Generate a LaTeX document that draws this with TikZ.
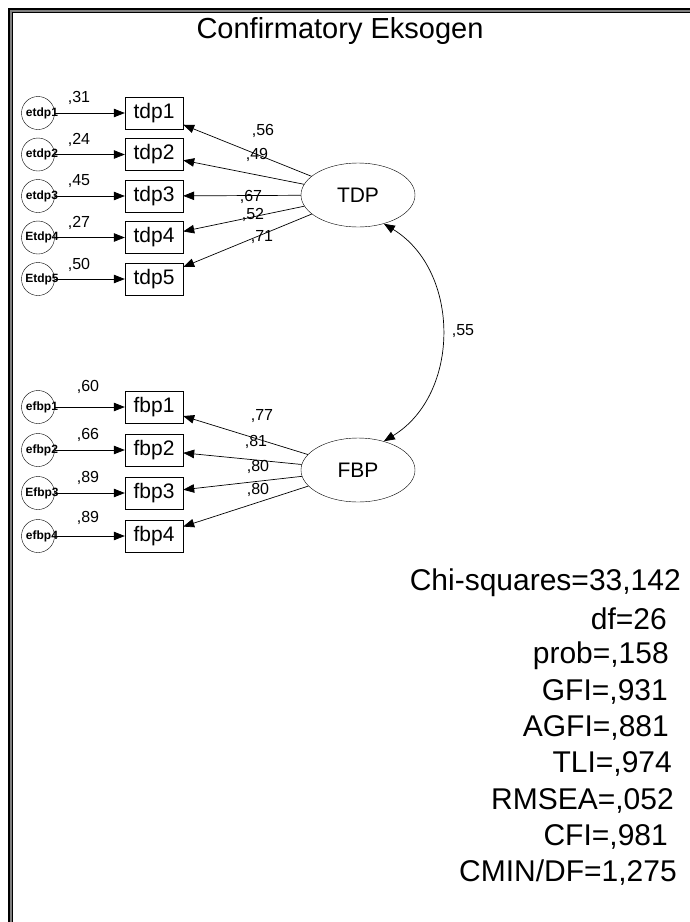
\documentclass[tikz,border=0pt]{standalone}
\usepackage{fontspec}
\setmainfont{Liberation Sans}
\usetikzlibrary{arrows.meta,shapes.geometric,calc}

\begin{document}
\begin{tikzpicture}[x=1pt,y=-1pt,
  obs/.style={draw, rectangle, minimum width=58pt, minimum height=32pt, inner sep=0pt, font=\fontsize{21}{25}\selectfont},
  lat/.style={draw, ellipse, minimum width=114pt, minimum height=64pt, inner sep=0pt, font=\fontsize{21}{25}\selectfont},
  errc/.style={draw, circle, minimum size=33pt, inner sep=0pt},
  errtxt/.style={font=\fontsize{12}{14}\selectfont\bfseries, inner sep=0pt},
  coef/.style={font=\fontsize{16}{19}\selectfont, inner sep=0pt},
  fitstat/.style={anchor=east, font=\fontsize{30}{36}\selectfont, inner sep=0pt},
  arr/.style={-{Triangle[length=11pt,width=8.5pt]}, line width=0.7pt},
  cov/.style={{Triangle[length=11pt,width=8.5pt]}-{Triangle[length=11pt,width=8.5pt]}, line width=0.7pt}]

\useasboundingbox (0,0) rectangle (690,922);

% frame
\draw[line width=2pt] (9,922) -- (9,9) -- (690,9);
\draw[gray, line width=1.4pt] (11,922) -- (11,11) -- (690,11);
\draw[line width=0.7pt] (12.4,922) -- (12.4,12.4) -- (690,12.4);

\node[font=\fontsize{29}{34}\selectfont, inner sep=0pt] (title) at (340,31) {Confirmatory Eksogen};

\node[lat] (TDP) at (358,195) {TDP};
\node[lat] (FBP) at (358,470) {FBP};

% TDP indicators
\foreach \i/\y/\ev/\vy/\lam/\lx/\ly/\en in {1/113/31/98/56/263/131/etdp1,
  2/154.5/24/140/49/257/155/etdp2, 3/196/45/181/67/251/197/etdp3,
  4/237.5/27/223/52/253/215/Etdp4, 5/279/50/265/71/262/237/Etdp5}
{
\node[obs] (tdp\i) at (154,\y) {tdp\i};
\node[errc] (etdp\i) at (38,\y) {};
\node[errtxt] (etdptxt\i) at ($(etdp\i)+(4,0)$) {\en};
\node[coef] (vtdp\i) at (79,\vy) {,\ev};
\draw[arr] (etdp\i) -- (tdp\i);
\draw[arr] (TDP) -- (tdp\i);
\node[coef] (ltdp\i) at (\lx,\ly) {,\lam};
}

% FBP indicators
\foreach \i/\y/\ev/\vy/\lam/\lx/\ly/\en in {1/407/60/387/77/262/416/efbp1,
  2/450/66/435/81/256/442/efbp2, 3/493/89/478/80/258/467/Efbp3,
  4/536/89/518/80/258/490/efbp4}
{
\node[obs] (fbp\i) at (154,\y) {fbp\i};
\node[errc] (efbp\i) at (38,\y) {};
\node[errtxt] (efbptxt\i) at ($(efbp\i)+(4,0)$) {\en};
\node[coef] (vfbp\i) at (88,\vy) {,\ev};
\draw[arr] (efbp\i) -- (fbp\i);
\draw[arr] (FBP) -- (fbp\i);
\node[coef] (lfbp\i) at (\lx,\ly) {,\lam};
}

\draw[cov] (TDP.-48) .. controls +(77,47) and +(77,-47) .. (FBP.48);
\node[coef] (rcov) at (463,331) {,55};

% fit indices
\foreach \t/\x/\y [count=\k] in {{Chi-squares=33,142}/681/583, {df=26}/667/619,
  {prob=,158}/669/656, {GFI=,931}/668/692, {AGFI=,881}/669/728,
  {TLI=,974}/672/764, {RMSEA=,052}/674/801, {CFI=,981}/668/837,
  {CMIN/DF=1,275}/677/873}
{
\node[fitstat] (stat\k) at (\x,\y) {\t};
}

\end{tikzpicture}
\end{document}
